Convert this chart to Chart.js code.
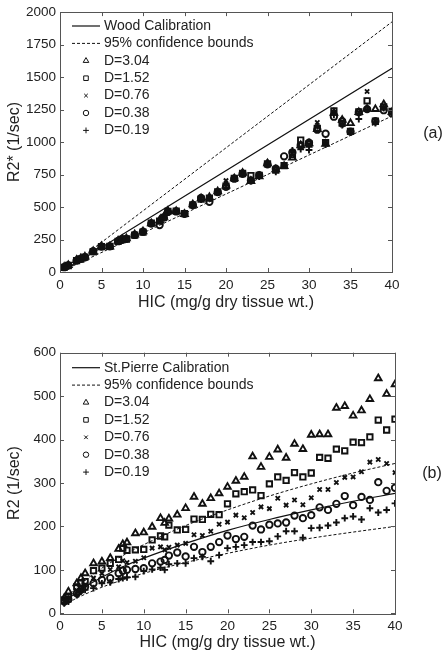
<!DOCTYPE html>
<html>
<head>
<meta charset="utf-8">
<script src="https://cdn.jsdelivr.net/npm/chart.js@4.4.0/dist/chart.umd.min.js"></script>
<style>
  body { margin: 0; background: #fff; }
  canvas { position: absolute; left: 0; }
</style>
</head>
<body>
<canvas id="chartA" width="448" height="330" style="top:0px"></canvas>
<canvas id="chartB" width="448" height="327" style="top:330px"></canvas>
<script>
// HIC values where samples were measured (mg/g dry tissue wt.)
const hic = [0.5,1,2,2.5,3,4,5,6,7,7.5,8,9,10,11,12,12.5,13,14,15,16,17,18,19,20,21,22,23,24,25,26,27,28,29,30,31,32,33,34,35,36,37,38,39,40];

// panel (a): R2* (1/sec)
const r2sD304 = [38,52,92,104,117,160,198,196,240,252,258,288,312,374,398,424,470,468,446,520,566,575,620,664,720,762,700,735,835,790,815,880,975,990,1100,985,1225,1170,1145,1230,1255,1253,1290,1230];
const r2sD152 = [36,50,88,100,115,156,196,198,236,250,254,284,306,376,392,420,466,468,450,516,560,568,616,660,720,758,742,744,832,784,818,905,1015,985,1105,995,1240,1145,1082,1232,1317,1160,1270,1235];
const r2sD076 = [40,53,90,103,118,158,200,195,238,252,258,286,314,378,396,424,470,462,444,522,565,572,622,703,724,760,702,742,836,784,822,912,960,982,1151,990,1228,1132,1080,1228,1389,1165,1262,1225];
const r2sD038 = [37,51,88,101,113,160,196,197,237,248,255,285,310,372,361,418,462,466,448,515,570,540,615,655,718,756,705,745,828,795,890,920,975,995,1095,1064,1195,1160,1080,1230,1253,1160,1245,1220];
const r2sD019 = [36,50,89,102,116,158,196,196,238,250,256,285,308,376,400,422,472,466,442,522,558,570,618,668,720,762,700,735,842,770,818,935,945,939,1120,980,1210,1130,1075,1177,1250,1145,1262,1218];

// Wood calibration and 95% bounds (straight lines)
const woodX = [0.5, 40];
const woodY = [12, 1567];
const woodUpY = [10, 1925];
const woodLoY = [15, 1200];

// panel (b): R2 (1/sec)
const r2D304 = [35,50,69,81,92,115,119,127,148,159,163,184,186,199,219,208,218,227,242,268,252,265,276,291,305,314,361,337,360,377,358,390,378,411,412,412,473,477,455,467,493,541,505,527];
const r2D152 = [31,38,61,69,73,98,104,115,124,150,145,146,147,169,178,176,203,192,193,217,216,228,227,252,275,280,284,271,298,314,306,324,314,323,359,357,378,374,394,393,406,445,422,447];
const r2D076 = [27,35,50,56,65,81,92,101,107,121,117,120,128,150,153,146,152,157,161,181,179,189,205,210,226,220,232,245,241,265,249,261,250,266,285,285,301,313,314,326,348,354,345,324];
const r2D038 = [27,32,46,54,61,69,77,81,92,98,100,102,104,115,119,123,133,140,131,153,141,153,164,179,171,176,202,193,204,207,209,225,219,226,244,238,252,270,249,268,261,302,282,289];
const r2D019 = [23,27,42,50,54,58,69,71,79,81,83,84,97,101,105,100,113,115,115,127,130,120,134,150,153,157,164,164,166,177,189,189,174,196,197,202,209,219,223,216,242,232,238,253];

// St.Pierre calibration and 95% bounds
const stpX = [0.5,1,2,3,5,7.5,10,15,20,25,30,35,40];
const stpY = [23,33,48,61,83,107,127,161,191,216,238,258,276];
const stpUpY = [28,41,60,76,104,133,158,202,238,270,298,323,345];
const stpLoY = [17,24,35,44,60,77,92,117,138,157,173,187,200];

const xTicks = [0,5,10,15,20,25,30,35,40];
const yTicksA = [0,250,500,750,1000,1250,1500,1750,2000];
const yTicksB = [0,100,200,300,400,500,600];

const FONT = '"Liberation Sans", Arial, sans-serif';
const INK = '#111';

function pts(xs, ys) {
    return xs.map((x, i) => ({x: x, y: ys[i]}));
}

function markerSet(label, ys, style, r) {
    return {
        label: label,
        data: pts(hic, ys),
        showLine: false,
        pointStyle: style,
        pointRadius: r || 3.4,
        pointBorderWidth: 1.9,
        pointBorderColor: INK,
        pointBackgroundColor: 'rgba(0,0,0,0)'
    };
}

function lineSet(label, xs, ys, dash) {
    return {
        label: label,
        data: pts(xs, ys),
        showLine: true,
        borderColor: INK,
        borderWidth: dash.length ? 1 : 1.2,
        borderDash: dash,
        pointRadius: 0,
        cubicInterpolationMode: 'monotone'
    };
}

// box around plot area with inward ticks on all four sides, plus panel tag
const framePlugin = {
    id: 'frame',
    afterDraw(chart, args, opts) {
        const ctx = chart.ctx;
        const a = chart.chartArea;
        const sx = chart.scales.x, sy = chart.scales.y;
        ctx.save();
        ctx.strokeStyle = '#555';
        ctx.lineWidth = 1;
        ctx.strokeRect(Math.round(a.left) + 0.5, Math.round(a.top) + 0.5,
            Math.round(a.right - a.left), Math.round(a.bottom - a.top));
        ctx.beginPath();
        sx.ticks.forEach(t => {
            const px = Math.round(sx.getPixelForValue(t.value)) + 0.5;
            ctx.moveTo(px, a.bottom); ctx.lineTo(px, a.bottom - 4);
            ctx.moveTo(px, a.top); ctx.lineTo(px, a.top + 4);
        });
        sy.ticks.forEach(t => {
            const py = Math.round(sy.getPixelForValue(t.value)) + 0.5;
            ctx.moveTo(a.left, py); ctx.lineTo(a.left + 4, py);
            ctx.moveTo(a.right, py); ctx.lineTo(a.right - 4, py);
        });
        ctx.stroke();
        ctx.fillStyle = '#222';
        ctx.font = '16px ' + FONT;
        ctx.textAlign = 'center';
        ctx.textBaseline = 'middle';
        ctx.fillText(opts.tag, opts.tagX, opts.tagY);
        ctx.restore();
    }
};

// legend drawn inside the plot area, top-left
const panelLegend = {
    id: 'panelLegend',
    afterDraw(chart, args, opts) {
        const ctx = chart.ctx;
        ctx.save();
        ctx.textBaseline = 'middle';
        ctx.textAlign = 'left';
        opts.order.forEach((idx, row) => {
            const ds = chart.data.datasets[idx];
            const y = opts.y0 + row * opts.dy;
            ctx.strokeStyle = INK;
            ctx.fillStyle = 'rgba(0,0,0,0)';
            if (ds.showLine) {
                ctx.lineWidth = ds.borderWidth;
                ctx.setLineDash(ds.borderDash || []);
                ctx.beginPath();
                ctx.moveTo(opts.x0, y);
                ctx.lineTo(opts.x0 + 28, y);
                ctx.stroke();
                ctx.setLineDash([]);
            } else {
                Chart.helpers.drawPoint(ctx, {
                    pointStyle: ds.pointStyle,
                    radius: ds.pointRadius * 0.85,
                    borderWidth: ds.pointBorderWidth,
                    rotation: 0
                }, opts.x0 + 14, y);
            }
            ctx.font = '14px ' + FONT;
            ctx.fillStyle = '#222';
            ctx.fillText(ds.label, opts.x0 + 32, y);
        });
        ctx.restore();
    }
};

function makeOptions(cfg) {
    const tickFont = {family: FONT, size: 13.5};
    const titleFont = {family: FONT, size: 16};
    const plain = v => String(v);
    return {
        responsive: false,
        animation: false,
        devicePixelRatio: 1,
        layout: {padding: {left: 0, top: cfg.padTop, right: cfg.padRight, bottom: cfg.padBottom}},
        plugins: {
            legend: {display: false},
            tooltip: {enabled: false},
            frame: {tag: cfg.tag, tagX: cfg.tagX, tagY: cfg.tagY},
            panelLegend: {order: [5, 6, 0, 1, 2, 3, 4], x0: 72, y0: cfg.legY, dy: 17.4}
        },
        scales: {
            x: {
                type: 'linear', min: 0, max: 40,
                afterBuildTicks: s => { s.ticks = xTicks.map(v => ({value: v})); },
                ticks: {padding: 5, color: '#222', font: tickFont, callback: plain},
                grid: {display: false, drawTicks: false},
                border: {display: false},
                title: {display: true, text: 'HIC (mg/g dry tissue wt.)', color: '#222', font: titleFont, padding: {top: 0, bottom: 0}},
                afterFit: s => { s.height = cfg.xHeight; }
            },
            y: {
                type: 'linear', min: 0, max: cfg.yTicks[cfg.yTicks.length - 1],
                afterBuildTicks: s => { s.ticks = cfg.yTicks.map(v => ({value: v})); },
                ticks: {padding: 4, color: '#222', font: tickFont, callback: plain},
                grid: {display: false, drawTicks: false},
                border: {display: false},
                title: {display: true, text: cfg.yTitle, color: '#222', font: titleFont, padding: {top: 5, bottom: 0}},
                afterFit: s => { s.width = 60; }
            }
        }
    };
}

new Chart(document.getElementById('chartA'), {
    type: 'scatter',
    data: {
        datasets: [
            markerSet('D=3.04', r2sD304, 'triangle', 3.8),
            markerSet('D=1.52', r2sD152, 'rect', 3.8),
            markerSet('D=0.76', r2sD076, 'crossRot', 3),
            markerSet('D=0.38', r2sD038, 'circle', 3.2),
            markerSet('D=0.19', r2sD019, 'cross', 3.4),
            lineSet('Wood Calibration', woodX, woodY, []),
            lineSet('95% confidence bounds', woodX, woodUpY, [3, 2]),
            lineSet('95% confidence bounds', woodX, woodLoY, [3, 2])
        ]
    },
    options: makeOptions({
        padTop: 11, padRight: 56, padBottom: 17.4, xHeight: 40.6,
        yTicks: yTicksA, yTitle: 'R2* (1/sec)',
        tag: '(a)', tagX: 433, tagY: 134, legY: 26
    }),
    plugins: [framePlugin, panelLegend]
});

new Chart(document.getElementById('chartB'), {
    type: 'scatter',
    data: {
        datasets: [
            markerSet('D=3.04', r2D304, 'triangle', 3.8),
            markerSet('D=1.52', r2D152, 'rect', 3.8),
            markerSet('D=0.76', r2D076, 'crossRot', 3),
            markerSet('D=0.38', r2D038, 'circle', 3.2),
            markerSet('D=0.19', r2D019, 'cross', 3.4),
            lineSet('St.Pierre Calibration', stpX, stpY, []),
            lineSet('95% confidence bounds', stpX, stpUpY, [3, 2]),
            lineSet('95% confidence bounds', stpX, stpLoY, [3, 2])
        ]
    },
    options: makeOptions({
        padTop: 22.7, padRight: 53, padBottom: 4.7, xHeight: 39,
        yTicks: yTicksB, yTitle: 'R2 (1/sec)',
        tag: '(b)', tagX: 432, tagY: 144, legY: 37.7
    }),
    plugins: [framePlugin, panelLegend]
});
</script>
</body>
</html>
